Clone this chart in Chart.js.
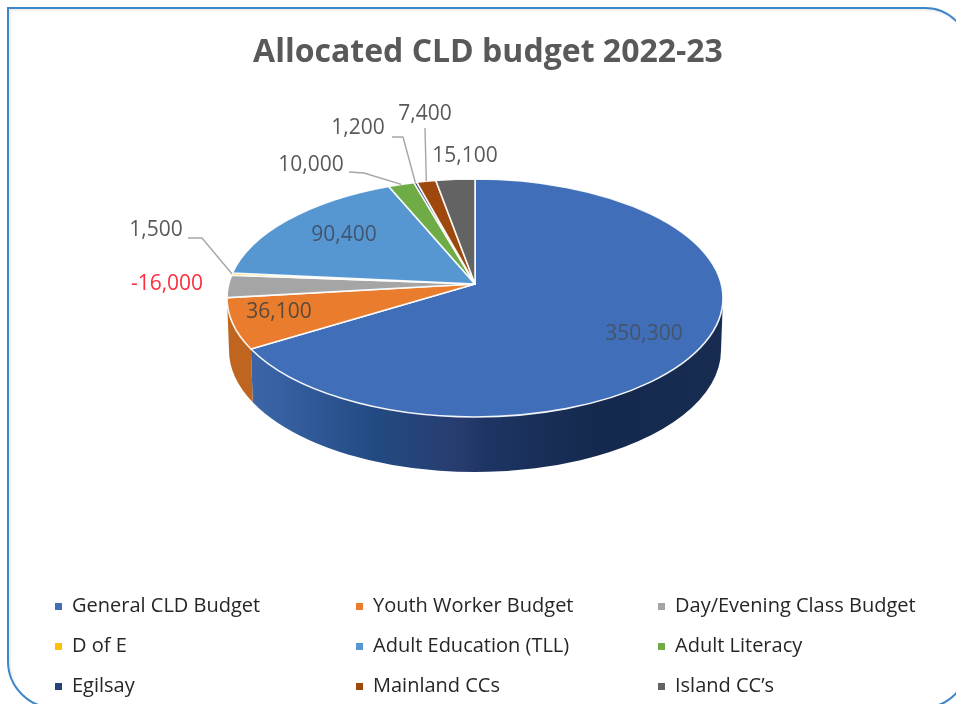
<!DOCTYPE html>
<html>
<head>
<meta charset="utf-8">
<script src="https://cdn.jsdelivr.net/npm/chart.js@4"></script>
<style>
html,body{margin:0;padding:0;background:#fff;width:956px;height:704px;overflow:hidden}
#frame{position:absolute;left:7px;top:7px;width:963px;height:702px;border:2px solid #3f86c6;border-radius:0 45px 48px 48px;box-sizing:border-box;box-shadow:inset 2px 2px 2px rgba(0,0,0,0.07)}
#c{position:absolute;left:20px;top:0}
.lg{position:absolute;font:20px "Open Sans",sans-serif;color:#262626;line-height:28px;white-space:nowrap}
.mk{position:absolute;width:7px;height:7px}
</style>
</head>
<body>
<div id="frame"></div>
<canvas id="c" width="936" height="704"></canvas>
<div id="legend"></div>
<script>
const categories = ["General CLD Budget","Youth Worker Budget","Day/Evening Class Budget","D of E","Adult Education (TLL)","Adult Literacy","Egilsay","Mainland CCs","Island CC\u2019s"];
const values = [350300,36100,-16000,1500,90400,10000,1200,7400,15100];
const colors = ["#416eb8","#ea7c2e","#a5a5a5","#ffc000","#5797d1","#6fac46","#264478","#9e480e","#636363"];
const wallColors = ["#264478","#c0651f","#7c7c7c","#bf9000","#41719c","#548235","#1a2f54","#763608","#4a4a4a"];
const labelPos = [[644,334],[279,312],[167,284],[156,230],[344,235],[311,165],[358,128],[425,114],[465,156]];
const labelColors = ["#44546a","#5a4a3a","#ff2d3d","#595959","#3f5570","#595959","#595959","#595959","#595959"];
const leaders = [null,null,null,[[188,238],[202,238]],null,[[349,172],[364,173]],[[392,137],[403,137]],[[425,128]],null];

const G = {cx:475, cy:298, rx:248, ry:119, apexY:284, bcy:350, brx:246, bry:122, ox:20};

function paramAngle(theta){
  // ray from apex at true pie angle, meeting the top-face ellipse
  const sx=Math.sin(theta), sy=-Math.cos(theta), ay=(G.apexY-G.cy)/G.ry;
  const b=ay*sy, c=ay*ay-1, t=-b+Math.sqrt(b*b-c);
  return Math.atan2(t*sx, -(ay+t*sy));
}
function norm(a){ while(a<0)a+=2*Math.PI; while(a>=2*Math.PI)a-=2*Math.PI; return a; }

const pie3d = {
  id:'pie3d',
  beforeDatasetDraw(chart,args){
    const ctx=chart.ctx, arcs=args.meta.data, ds=chart.data.datasets[0];
    ctx.save();
    ctx.translate(-G.ox,0);
    const geo=arcs.map(el=>{
      const s=el.startAngle+Math.PI/2, e=el.endAngle+Math.PI/2;
      let a0=norm(paramAngle(s)), a1=norm(paramAngle(e));
      if(a1<=a0) a1+=2*Math.PI;
      return {a0,a1,mid:norm(paramAngle((s+e)/2))};
    });
    // side wall
    const H=Math.PI/2;
    geo.forEach((g,i)=>{
      const from=Math.max(g.a0,H), to=Math.min(g.a1,3*H);
      if(to<=from) return;
      ctx.beginPath();
      ctx.ellipse(G.cx,G.cy,G.rx,G.ry,0,from-H,to-H,false);
      ctx.ellipse(G.cx,G.bcy,G.brx,G.bry,0,to-H,from-H,true);
      ctx.closePath();
      if(i===0){
        const gr=ctx.createLinearGradient(G.cx-G.rx,0,G.cx+G.rx,0);
        gr.addColorStop(0.0,"#3f66a8");gr.addColorStop(0.08,"#3a63a6");gr.addColorStop(0.3,"#224a82");
        gr.addColorStop(0.47,"#283c6e");gr.addColorStop(0.52,"#1e3564");gr.addColorStop(0.75,"#14294d");gr.addColorStop(1,"#182c52");
        ctx.fillStyle=gr;
      } else ctx.fillStyle=wallColors[i];
      ctx.fill();
    });
    // top face
    arcs.forEach((el,i)=>{
      const g=geo[i];
      ctx.beginPath();
      ctx.moveTo(G.cx,G.apexY);
      ctx.ellipse(G.cx,G.cy,G.rx,G.ry,0,g.a0-H,g.a1-H,false);
      ctx.closePath();
      ctx.fillStyle=ds.backgroundColor[i];
      ctx.fill();
      ctx.strokeStyle="rgba(255,255,255,0.92)";
      ctx.lineWidth=1.6;
      ctx.lineJoin="round";
      ctx.stroke();
    });
    // leader lines
    ctx.strokeStyle="#a6a6a6";ctx.lineWidth=1.4;
    leaders.forEach((pts,i)=>{
      if(!pts) return;
      const m=geo[i].mid;
      ctx.beginPath();
      pts.forEach((p,k)=>k?ctx.lineTo(p[0],p[1]):ctx.moveTo(p[0],p[1]));
      ctx.lineTo(G.cx+G.rx*Math.sin(m),G.cy-G.ry*Math.cos(m));
      ctx.stroke();
    });
    // value labels
    ctx.font='21px "Open Sans",sans-serif';
    ctx.textAlign="center";ctx.textBaseline="middle";
    values.forEach((v,i)=>{
      ctx.fillStyle=labelColors[i];
      ctx.fillText(v.toLocaleString("en-US"),labelPos[i][0],labelPos[i][1]);
    });
    ctx.restore();
    return false;
  }
};

new Chart(document.getElementById('c'),{
  type:'pie',
  data:{labels:categories,datasets:[{data:values,backgroundColor:colors}]},
  options:{
    responsive:false,animation:false,devicePixelRatio:1,
    plugins:{
      legend:{display:false},
      tooltip:{enabled:false},
      title:{display:true,text:"Allocated CLD budget 2022-23",color:"#595959",
        font:{family:'"Open Sans",sans-serif',size:32,weight:'bold'},padding:{top:34,bottom:10}}
    }
  },
  plugins:[pie3d]
});

const lg=document.getElementById('legend');
const colX=[55,356,658], rowY=[605,645,685];
categories.forEach((name,i)=>{
  const x=colX[i%3], y=rowY[Math.floor(i/3)];
  const m=document.createElement('div');m.className='mk';
  m.style.cssText=`left:${x}px;top:${y-2}px;background:${colors[i]}`;
  const t=document.createElement('div');t.className='lg';t.textContent=name;
  t.style.cssText=`left:${x+17}px;top:${y-14}px`;
  lg.append(m,t);
});
</script>
</body>
</html>
